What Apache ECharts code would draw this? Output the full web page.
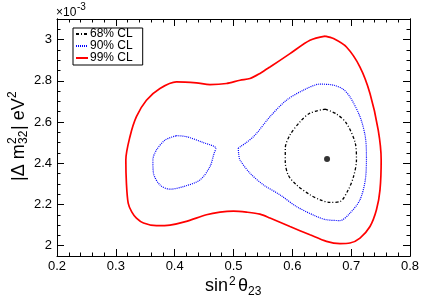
<!DOCTYPE html>
<html>
<head>
<meta charset="utf-8">
<script src="https://cdn.jsdelivr.net/npm/echarts@6/dist/echarts.min.js"></script>
<style>
html,body{margin:0;padding:0;background:#fff;}
#chart{width:441px;height:297px;}
</style>
</head>
<body>
<div id="chart"></div>
<script>
// ---- data ----
const xTicks = [0.2, 0.3, 0.4, 0.5, 0.6, 0.7, 0.8];
const yTicks = [2, 2.2, 2.4, 2.6, 2.8, 3];
const yMinorTicks = [1.95, 2.05, 2.1, 2.15, 2.25, 2.3, 2.35, 2.45, 2.5, 2.55, 2.65, 2.7, 2.75, 2.85, 2.9, 2.95, 3.05, 3.1];
const legendNames = ['68% CL', '90% CL', '99% CL'];

const cl99X = [0.656,0.630,0.596,0.562,0.545,0.528,0.511,0.488,0.460,0.437,0.403,0.375,0.352,0.335,0.324,0.317,0.318,0.321,0.327,0.335,0.347,0.369,0.392,0.420,0.454,0.477,0.500,0.522,0.545,0.562,0.596,0.630,0.658,0.681,0.698,0.715,0.732,0.743,0.749,0.751,0.746,0.732,0.715,0.692,0.670,0.656];
const cl99Y = [3.017,2.997,2.932,2.867,2.836,2.811,2.803,2.787,2.782,2.790,2.795,2.763,2.706,2.626,2.529,2.416,2.303,2.207,2.164,2.134,2.110,2.097,2.100,2.118,2.150,2.163,2.168,2.163,2.153,2.134,2.093,2.053,2.021,2.010,2.013,2.037,2.093,2.174,2.271,2.416,2.561,2.739,2.867,2.964,3.005,3.017];

const cl90RightX = [0.508,0.534,0.562,0.590,0.619,0.647,0.670,0.686,0.698,0.715,0.724,0.726,0.724,0.715,0.698,0.681,0.658,0.641,0.607,0.579,0.551,0.528,0.511,0.509,0.508];
const cl90RightY = [2.473,2.529,2.626,2.706,2.755,2.784,2.779,2.760,2.722,2.626,2.529,2.432,2.319,2.223,2.158,2.122,2.126,2.142,2.190,2.247,2.295,2.352,2.416,2.440,2.473];

const cl90LeftX = [0.403,0.420,0.449,0.470,0.467,0.460,0.443,0.415,0.392,0.375,0.364,0.363,0.369,0.384,0.403];
const cl90LeftY = [2.534,2.529,2.500,2.473,2.448,2.384,2.319,2.287,2.274,2.295,2.352,2.416,2.464,2.513,2.534];

const cl68X = [0.656,0.675,0.692,0.707,0.709,0.704,0.695,0.681,0.664,0.647,0.630,0.607,0.593,0.588,0.588,0.596,0.613,0.630,0.656];
const cl68Y = [2.663,2.639,2.594,2.497,2.416,2.335,2.271,2.214,2.210,2.223,2.247,2.295,2.343,2.408,2.473,2.537,2.601,2.643,2.663];

const bestFitX = [0.659];
const bestFitY = [2.421];

// ---- build ----
const zip = (xs, ys) => xs.map((x, i) => [x, ys[i]]);
const FONT = '"Liberation Sans", Arial, Helvetica, sans-serif';
const near = (v, arr) => arr.some(t => Math.abs(t - v) < 1e-6);

const Y_MIN = 1.95, Y_MAX = 3.1;

const chart = echarts.init(document.getElementById('chart'), null, {renderer: 'canvas'});

const baseX = {
  type: 'value', min: 0.2, max: 0.8, interval: 0.1,
  splitLine: {show: false},
  axisLine: {show: true, onZero: false, lineStyle: {color: '#000', width: 1}},
  axisTick: {show: true, inside: true, length: 7, lineStyle: {color: '#000'}},
  minorTick: {show: true, splitNumber: 5, length: 3.5, lineStyle: {color: '#000'}},
  minorSplitLine: {show: false}
};

const baseY = {
  type: 'value', min: Y_MIN, max: Y_MAX,
  splitLine: {show: false},
  axisLine: {show: true, onZero: false, lineStyle: {color: '#000', width: 1}},
  axisLabel: {show: false}
};

const option = {
  animation: false,
  backgroundColor: '#fff',
  grid: {left: 57, right: 31, top: 19, bottom: 41, containLabel: false},
  xAxis: [
    Object.assign({}, baseX, {
      position: 'bottom',
      axisLabel: {show: true, color: '#000', fontSize: 13, fontFamily: FONT, margin: 4,
        formatter: v => (near(v, xTicks) ? String(Math.round(v * 10) / 10) : '')}
    }),
    Object.assign({}, baseX, {position: 'top', axisLabel: {show: false}})
  ],
  yAxis: [
    Object.assign({}, baseY, {
      position: 'left',
      axisTick: {show: true, inside: true, length: 7, customValues: yTicks, lineStyle: {color: '#000'}},
      axisLabel: {show: true, customValues: yTicks, color: '#000', fontSize: 13, fontFamily: FONT, margin: 5,
        formatter: v => String(Math.round(v * 10) / 10)}
    }),
    Object.assign({}, baseY, {
      position: 'left',
      axisTick: {show: true, inside: true, length: 3.5, customValues: yMinorTicks, lineStyle: {color: '#000'}}
    }),
    Object.assign({}, baseY, {
      position: 'right',
      axisTick: {show: true, inside: true, length: 7, customValues: yTicks, lineStyle: {color: '#000'}}
    }),
    Object.assign({}, baseY, {
      position: 'right',
      axisTick: {show: true, inside: true, length: 3.5, customValues: yMinorTicks, lineStyle: {color: '#000'}}
    })
  ],
  legend: {
    orient: 'vertical', left: 73, top: 28,
    data: legendNames,
    padding: [0, 10, 1, 2],
    itemGap: 0, itemWidth: 12, itemHeight: 10,
    borderColor: '#000', borderWidth: 1, borderRadius: 0,
    backgroundColor: '#fff',
    itemStyle: {color: 'rgba(0,0,0,0)', borderColor: 'rgba(0,0,0,0)', borderWidth: 0},
    textStyle: {color: '#000', fontSize: 12, fontFamily: FONT, lineHeight: 12, padding: [0, 0, 0, -3]},
    selectedMode: false
  },
  series: [
    {
      name: legendNames[0], type: 'line', xAxisIndex: 0, yAxisIndex: 0,
      data: zip(cl68X, cl68Y), showSymbol: false, symbol: 'none', smooth: 0.3,
      lineStyle: {color: '#000', width: 1.3, type: [3, 2, 1, 2]}, itemStyle: {color: '#000'}, z: 4
    },
    {
      name: legendNames[1], type: 'line', xAxisIndex: 0, yAxisIndex: 0,
      data: zip(cl90RightX, cl90RightY), showSymbol: false, symbol: 'none', smooth: 0.3,
      lineStyle: {color: '#0000ff', width: 1.2, type: [1, 1]}, itemStyle: {color: '#0000ff'}, z: 3
    },
    {
      name: legendNames[1], type: 'line', xAxisIndex: 0, yAxisIndex: 0,
      data: zip(cl90LeftX, cl90LeftY), showSymbol: false, symbol: 'none', smooth: 0.3,
      lineStyle: {color: '#0000ff', width: 1.2, type: [1, 1]}, itemStyle: {color: '#0000ff'}, z: 3
    },
    {
      name: legendNames[2], type: 'line', xAxisIndex: 0, yAxisIndex: 0,
      data: zip(cl99X, cl99Y), showSymbol: false, symbol: 'none', smooth: 0.3,
      lineStyle: {color: '#ff0000', width: 1.7, type: 'solid'}, itemStyle: {color: '#ff0000'}, z: 2
    },
    {
      name: 'best fit', type: 'scatter', xAxisIndex: 0, yAxisIndex: 0,
      data: zip(bestFitX, bestFitY), symbol: 'circle', symbolSize: 6,
      itemStyle: {color: '#000'}, z: 5
    }
  ],
  graphic: [
    // x axis title: sin^2 θ_23
    {type: 'text', x: 205, y: 286.4, style: {text: 'sin', fontSize: 18, fontFamily: FONT, fill: '#000', verticalAlign: 'middle', align: 'left'}},
    {type: 'text', x: 229, y: 281.3, style: {text: '2', fontSize: 12, fontFamily: FONT, fill: '#000', verticalAlign: 'middle', align: 'left'}},
    {type: 'text', x: 238, y: 286.4, style: {text: 'θ', fontSize: 18, fontFamily: FONT, fill: '#000', verticalAlign: 'middle', align: 'left'}},
    {type: 'text', x: 248, y: 291.3, style: {text: '23', fontSize: 12, fontFamily: FONT, fill: '#000', verticalAlign: 'middle', align: 'left'}},
    // y axis title: |Δ m^2_32| eV^2
    {
      type: 'group', x: 25, y: 181, rotation: Math.PI / 2,
      children: [
        {type: 'text', x: 0, y: -6.3, style: {text: '|Δ m', fontSize: 18, fontFamily: FONT, fill: '#000', verticalAlign: 'middle', align: 'left'}},
        {type: 'text', x: 37, y: -12.2, style: {text: '2', fontSize: 12, fontFamily: FONT, fill: '#000', verticalAlign: 'middle', align: 'left'}},
        {type: 'text', x: 37, y: -1.2, style: {text: '32', fontSize: 12, fontFamily: FONT, fill: '#000', verticalAlign: 'middle', align: 'left'}},
        {type: 'text', x: 51, y: -6.3, style: {text: '| eV', fontSize: 18, fontFamily: FONT, fill: '#000', verticalAlign: 'middle', align: 'left'}},
        {type: 'text', x: 83, y: -12.2, style: {text: '2', fontSize: 12, fontFamily: FONT, fill: '#000', verticalAlign: 'middle', align: 'left'}}
      ]
    },
    // exponent ×10^-3
    {type: 'text', x: 56, y: 13, style: {text: '×10', fontSize: 12, fontFamily: FONT, fill: '#000', verticalAlign: 'middle', align: 'left'}},
    {type: 'text', x: 77, y: 7.5, style: {text: '-3', fontSize: 10, fontFamily: FONT, fill: '#000', verticalAlign: 'middle', align: 'left'}}
  ]
};

chart.setOption(option);
</script>
</body>
</html>
